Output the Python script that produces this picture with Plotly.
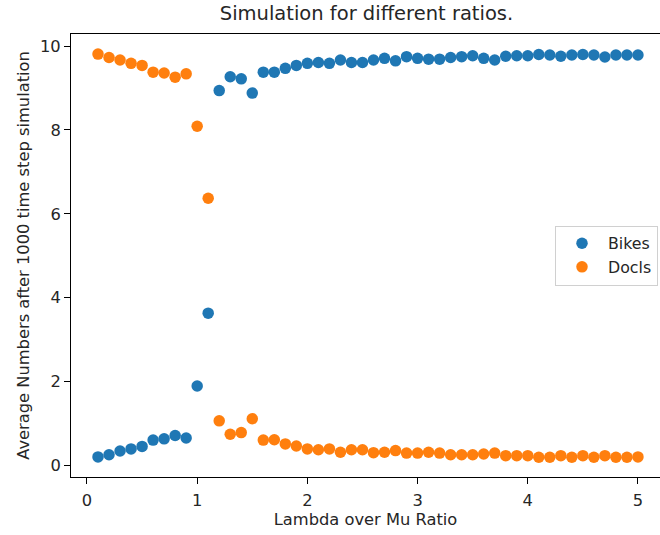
import plotly.graph_objects as go

# Lambda/Mu ratios simulated
ratios = [round(0.1 * i, 1) for i in range(1, 51)]

# Average number of bikes after 1000 time steps
bikes = [0.20, 0.25, 0.34, 0.39, 0.45, 0.60, 0.63, 0.71, 0.65, 1.89,
         3.63, 8.94, 9.27, 9.22, 8.88, 9.38, 9.38, 9.47, 9.54, 9.59,
         9.61, 9.59, 9.67, 9.61, 9.61, 9.67, 9.71, 9.65, 9.75, 9.71,
         9.69, 9.69, 9.73, 9.75, 9.77, 9.71, 9.67, 9.76, 9.77, 9.77,
         9.80, 9.79, 9.76, 9.79, 9.80, 9.79, 9.74, 9.79, 9.79, 9.79]

# Average number of free docks after 1000 time steps
docks = [9.81, 9.73, 9.67, 9.59, 9.54, 9.38, 9.36, 9.26, 9.34, 8.09,
         6.37, 1.06, 0.74, 0.78, 1.11, 0.60, 0.61, 0.51, 0.46, 0.39,
         0.37, 0.39, 0.31, 0.37, 0.37, 0.30, 0.31, 0.35, 0.29, 0.29,
         0.31, 0.29, 0.25, 0.25, 0.25, 0.27, 0.29, 0.23, 0.23, 0.23,
         0.19, 0.19, 0.23, 0.19, 0.23, 0.19, 0.23, 0.19, 0.19, 0.20]

FONT = "DejaVu Sans"
TXT = 16.3

fig = go.Figure()
fig.add_trace(go.Scatter(x=ratios, y=bikes, mode="markers", name="Bikes",
                         marker=dict(color="#1f77b4", size=11.5, line=dict(width=0))))
fig.add_trace(go.Scatter(x=ratios, y=docks, mode="markers", name="Docls",
                         marker=dict(color="#ff7f0e", size=11.5, line=dict(width=0))))

axis_common = dict(
    showgrid=False, zeroline=False, showline=True, linecolor="black", linewidth=1,
    ticks="outside", ticklen=6, tickwidth=1, tickcolor="black",
    tickfont=dict(family=FONT, size=TXT, color="#262626"),
)

fig.update_layout(
    width=660, height=535,
    margin=dict(l=71, r=0, t=34, b=58),
    paper_bgcolor="white", plot_bgcolor="white",
    font=dict(family=FONT, color="#262626"),
    title=dict(text="Simulation for different ratios.", x=(366.5 - 71) / 589, xref="paper",
               xanchor="center", y=1 - 13.5 / 535, yref="container", yanchor="middle",
               font=dict(family=FONT, size=19.5, color="#262626")),
    xaxis=dict(range=[-0.145, 5.2], tickvals=[0, 1, 2, 3, 4, 5], mirror=True,
               ticklabelstandoff=2,
               title=dict(text="Lambda over Mu Ratio", standoff=3,
                          font=dict(family=FONT, size=TXT, color="#262626")),
               **axis_common),
    yaxis=dict(range=[-0.28, 10.29], tickvals=[0, 2, 4, 6, 8, 10],
               title=dict(text="Average Numbers after 1000 time step simulation", standoff=6,
                          font=dict(family=FONT, size=TXT, color="#262626")),
               **axis_common),
    legend=dict(x=0.9966, xanchor="right", y=0.5, yanchor="middle",
                bgcolor="rgba(255,255,255,0.8)", bordercolor="#d0d0d0", borderwidth=1,
                font=dict(family=FONT, size=15.8, color="#262626"), itemwidth=42),
    showlegend=True,
)

fig.write_html("out.html")
